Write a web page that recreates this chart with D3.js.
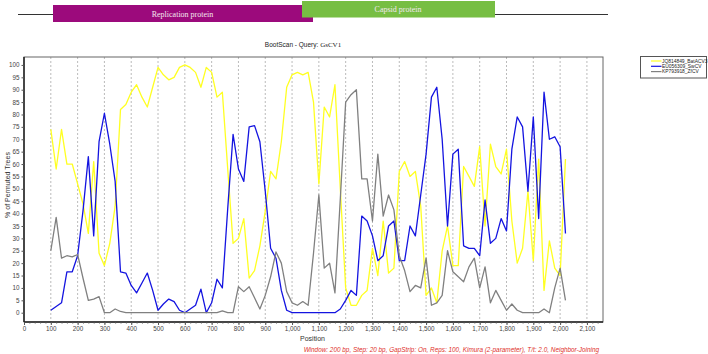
<!DOCTYPE html>
<html>
<head>
<meta charset="utf-8">
<script src="https://cdn.jsdelivr.net/npm/d3@7"></script>
<style>
  body { margin: 0; background: #fff; }
  svg { display: block; font-family: Arial, "Liberation Sans", sans-serif; }
</style>
</head>
<body>
<svg width="708" height="354"></svg>
<script>
// window centres (step 20 bp)
var positions = [100,120,140,160,180,200,220,240,260,280,300,320,340,360,380,400,420,440,460,480,
  500,520,540,560,580,600,620,640,660,680,700,720,740,760,780,800,820,840,860,880,
  900,920,940,960,980,1000,1020,1040,1060,1080,1100,1120,1140,1160,1180,1200,1220,1240,1260,1280,
  1300,1320,1340,1360,1380,1400,1420,1440,1460,1480,1500,1520,1540,1560,1580,1600,1620,1640,1660,1680,
  1700,1720,1740,1760,1780,1800,1820,1840,1860,1880,1900,1920,1940,1960,1980,2000,2020];

var batACV3 = [74,58,74,60,60,52,44,32,61,24,19,28,43,82,84,89,92,87,83,91,
  99,96,94,95,99,100,99,97,91,99,97,87,89,58,28,30,38,14,17,27,
  41,57,54,69,91,96,97,96,97,85,52,83,79,92,50,10,3,3,7,9,
  26,15,37,16,18,57,61,55,57,43,7,10,4,25,35,19,19,59,55,51,
  67,35,68,59,56,66,37,20,26,49,21,62,9,29,18,15,62];

var swCV = [1,2.5,4,16.5,16.5,23,41,63,31,69,80.5,68,53,16.5,16,11,8,12,16,9,
  1,3.5,5.5,4.5,1,0,1.5,3,9.5,0,4,13.5,10,42,72,58,53,75,75.5,69,
  49,26,22,9,1,0,0,0,0,0,0,0,0,0,1.5,5,9,7,39,37,
  31,21,23,35,37,21,21,35,31,47.5,64,87,91,70,35,64,66,27,26,26,
  23,45.5,28,30,38,33,66,79,75,49,79,38,89,70,71,67,32];

var zfCV = [25,38.5,22,23,22.5,23.5,14,5,5.5,6.5,0,0,1.5,0.5,0,0,0,0,0,0,
  0,0,0,0,0,0,0,0,0,0,0,0,0.7,0,0,10.5,8.5,10.5,6,1.5,
  7,14.5,24.5,20,8.5,4,3,4.5,3,24,47.5,18,20,8,46,85,88,90,54,54,
  37,64,39,47.5,41.5,23,17,8.5,11,10,22,3,4,7,25,16.5,14.5,12.5,18.5,22,
  10,18.5,4,9,5,1,3.5,1,0,0,0,0,1.5,0,10,18,5];

var seriesNames = ["JQ814849_BatACV3", "EU056309_SwCV", "KP793918_ZfCV"];
var seriesColors = ["#ffff22", "#1414e0", "#808080"];
var seriesValues = [batACV3, swCV, zfCV];

var genes = [
  {name: "Replication protein", start: 53, end: 313, top: 5, bottom: 22, fill: "#9c0a7c"},
  {name: "Capsid protein", start: 302, end: 495, top: 1, bottom: 17.5, fill: "#77be43"}
];

var xTicks = d3.range(0, 2101, 100);
var yTicks = d3.range(0, 101, 5);

var svg = d3.select("svg");

var x = d3.scaleLinear().domain([0, 2160]).range([24, 603]);
var y = d3.scaleLinear().domain([-3.75, 103.2]).range([322, 57]);

// genome map on top
svg.append("line")
  .attr("x1", 18).attr("x2", 608).attr("y1", 14.5).attr("y2", 14.5)
  .attr("stroke", "#333").attr("stroke-width", 1);

var gene = svg.selectAll(".gene").data(genes).enter().append("g").attr("class", "gene");
gene.append("rect")
  .attr("x", function(d) { return d.start; })
  .attr("y", function(d) { return d.top; })
  .attr("width", function(d) { return d.end - d.start; })
  .attr("height", function(d) { return d.bottom - d.top; })
  .attr("fill", function(d) { return d.fill; });
gene.append("text")
  .attr("x", function(d, i) { return i == 0 ? 182.5 : 398; })
  .attr("y", function(d) { return (d.top + d.bottom) / 2 + 3; })
  .attr("text-anchor", "middle")
  .attr("fill", "#f4e8f0")
  .style("font", "8px 'Liberation Serif', 'Times New Roman', serif")
  .text(function(d) { return d.name; });

// title
var title = svg.append("text")
  .attr("x", 303).attr("y", 46.5)
  .attr("text-anchor", "middle")
  .attr("fill", "#222")
  .style("font-size", "6.5px");
title.append("tspan").text("BootScan - Query: ");
title.append("tspan").style("font-family", "'Liberation Serif', serif").style("font-size", "7px").text("GsCV1");

// grid
svg.append("g").selectAll("line")
  .data(xTicks.filter(function(d) { return d > 0; }))
  .enter().append("line")
  .attr("x1", function(d) { return x(d); }).attr("x2", function(d) { return x(d); })
  .attr("y1", 57).attr("y2", 322)
  .attr("stroke", "#aaa").attr("stroke-width", 0.8)
  .attr("stroke-dasharray", "2,2");

// frame
svg.append("rect")
  .attr("x", 24).attr("y", 57).attr("width", 579).attr("height", 265)
  .attr("fill", "none").attr("stroke", "#666").attr("stroke-width", 1);

// lines
var line = d3.line()
  .x(function(d, i) { return x(positions[i]); })
  .y(function(d) { return y(d); });

svg.append("g").selectAll("path")
  .data(seriesValues)
  .enter().append("path")
  .attr("fill", "none")
  .attr("stroke", function(d, i) { return seriesColors[i]; })
  .attr("stroke-width", 1.3)
  .attr("stroke-linejoin", "round")
  .attr("d", line);

// axes
var xAxis = svg.append("g")
  .attr("transform", "translate(0,322)")
  .call(d3.axisBottom(x).tickValues(xTicks).tickSize(3).tickPadding(2).tickFormat(d3.format(",")));
svg.append("g")
  .attr("transform", "translate(0,322)")
  .call(d3.axisBottom(x).tickValues(d3.range(0, 2160, 20)).tickSize(1.5).tickFormat(""))
  .select(".domain").remove();

var yAxis = svg.append("g")
  .attr("transform", "translate(24,0)")
  .call(d3.axisLeft(y).tickValues(yTicks).tickSize(2.5).tickPadding(2));

svg.selectAll(".domain").attr("stroke", "#222").attr("stroke-width", 1.5);
svg.selectAll(".tick line").attr("stroke", "#555");
svg.selectAll(".tick text").attr("fill", "#444").style("font-size", "6.3px").style("font-family", "Arial, 'Liberation Sans', sans-serif");
yAxis.select(".domain").attr("d", "M0,322V57");
xAxis.select(".domain").attr("d", "M24,0H603");

// axis titles
svg.append("text")
  .attr("transform", "translate(10,185) rotate(-90)")
  .attr("text-anchor", "middle")
  .attr("fill", "#333")
  .style("font-size", "7px")
  .text("% of Permuted Trees");

svg.append("text")
  .attr("x", 312.5).attr("y", 340.5)
  .attr("text-anchor", "middle")
  .attr("fill", "#333")
  .style("font-size", "7px")
  .text("Position");

svg.append("text")
  .attr("x", 599).attr("y", 352)
  .attr("text-anchor", "end")
  .attr("fill", "#e0302a")
  .style("font-size", "6.4px")
  .style("font-style", "italic")
  .text("Window: 200 bp, Step: 20 bp, GapStrip: On, Reps: 100, Kimura (2-parameter), T/t: 2.0, Neighbor-Joining");

// legend
var legend = svg.append("g");
legend.append("rect")
  .attr("x", 640.5).attr("y", 56.5).attr("width", 66).attr("height", 21.5)
  .attr("fill", "#fff").attr("stroke", "#555").attr("stroke-width", 1);
var item = legend.selectAll(".item").data(seriesNames).enter().append("g")
  .attr("transform", function(d, i) { return "translate(0," + (61 + i * 5.3) + ")"; });
item.append("line")
  .attr("x1", 651).attr("x2", 661.5)
  .attr("stroke", function(d, i) { return seriesColors[i]; })
  .attr("stroke-width", 1.2);
item.append("text")
  .attr("x", 662).attr("dy", "0.35em")
  .attr("fill", "#222")
  .style("font-size", "4.9px")
  .text(function(d) { return d; });
</script>
</body>
</html>
